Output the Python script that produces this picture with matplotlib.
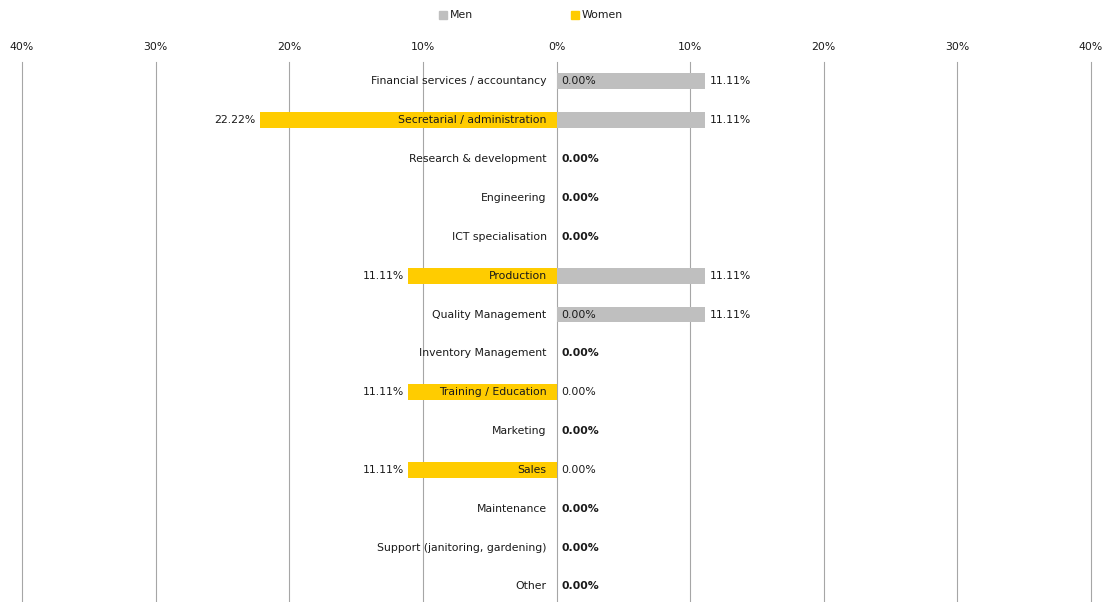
import matplotlib
matplotlib.use("Agg")
import matplotlib.pyplot as plt
from matplotlib.patches import Rectangle

categories = [
    "Financial services / accountancy",
    "Secretarial / administration",
    "Research & development",
    "Engineering",
    "ICT specialisation",
    "Production",
    "Quality Management",
    "Inventory Management",
    "Training / Education",
    "Marketing",
    "Sales",
    "Maintenance",
    "Support (janitoring, gardening)",
    "Other",
]
women = [0.00, 22.22, 0.00, 0.00, 0.00, 11.11, 0.00, 0.00, 11.11, 0.00, 11.11, 0.00, 0.00, 0.00]
men = [11.11, 11.11, 0.00, 0.00, 0.00, 11.11, 11.11, 0.00, 0.00, 0.00, 0.00, 0.00, 0.00, 0.00]
tick_values = [-40, -30, -20, -10, 0, 10, 20, 30, 40]
tick_labels = [f"{abs(v)}%" for v in tick_values]

MEN_COLOR = "#BFBFBF"
WOMEN_COLOR = "#FFCC00"
GRID_COLOR = "#A6A6A6"
TEXT_COLOR = "#1A1A1A"
FS = 7.8

plt.rcParams["font.family"] = ["DejaVu Sans"]

W, H = 1112, 602
fig = plt.figure(figsize=(W / 100, H / 100), dpi=100)
ax_left, ax_right, ax_top = 22, 1091, 62
ax = fig.add_axes([ax_left / W, 0, (ax_right - ax_left) / W, (H - ax_top) / H])

n = len(categories)
row_px = 38.85
visible_rows = (H - ax_top) / row_px
ax.set_xlim(-40, 40)
ax.set_ylim(-0.5 + visible_rows, -0.5)

for spine in ax.spines.values():
    spine.set_visible(False)
ax.set_yticks([])
ax.set_xticks(tick_values)
ax.set_xticklabels(tick_labels, fontsize=FS, color=TEXT_COLOR)
ax.xaxis.set_ticks_position("top")
ax.tick_params(axis="x", length=0, pad=7)
for v in tick_values:
    ax.axvline(v, color=GRID_COLOR, linewidth=0.8, zorder=1, clip_on=False)

y = list(range(n))
bar_h = 0.41
ax.barh(y, [-w for w in women], height=bar_h, color=WOMEN_COLOR, zorder=2)
ax.barh(y, men, height=bar_h, color=MEN_COLOR, zorder=2)

px = 0.72  # points per pixel at 100 dpi
for i, cat in enumerate(categories):
    w, m = women[i], men[i]
    ax.annotate(cat, (0, i), xytext=(-10 * px, 0), textcoords="offset points",
                ha="right", va="center", fontsize=FS, color=TEXT_COLOR, zorder=3)
    if w > 0:
        ax.annotate(f"{w:.2f}%", (-w, i), xytext=(-4 * px, 0), textcoords="offset points",
                    ha="right", va="center", fontsize=FS, color=TEXT_COLOR, zorder=3)
    if m > 0:
        ax.annotate(f"{m:.2f}%", (m, i), xytext=(5 * px, 0), textcoords="offset points",
                    ha="left", va="center", fontsize=FS, color=TEXT_COLOR, zorder=3)
    if w == 0 or m == 0:
        both_zero = (w == 0 and m == 0)
        ax.annotate("0.00%", (0, i), xytext=(5 * px, 0), textcoords="offset points",
                    ha="left", va="center", fontsize=FS, color=TEXT_COLOR,
                    fontweight="bold" if both_zero else "normal", zorder=3)

# Legend
def legend_item(x_px, label, color):
    fig.patches.append(Rectangle((x_px / W, 1 - 19 / H), 8 / W, 8 / H,
                                 transform=fig.transFigure, color=color, figure=fig))
    fig.text((x_px + 11) / W, 1 - 15 / H, label, ha="left", va="center",
             fontsize=FS, color=TEXT_COLOR)

legend_item(439, "Men", MEN_COLOR)
legend_item(571, "Women", WOMEN_COLOR)

fig.savefig("out.png", dpi=100)
